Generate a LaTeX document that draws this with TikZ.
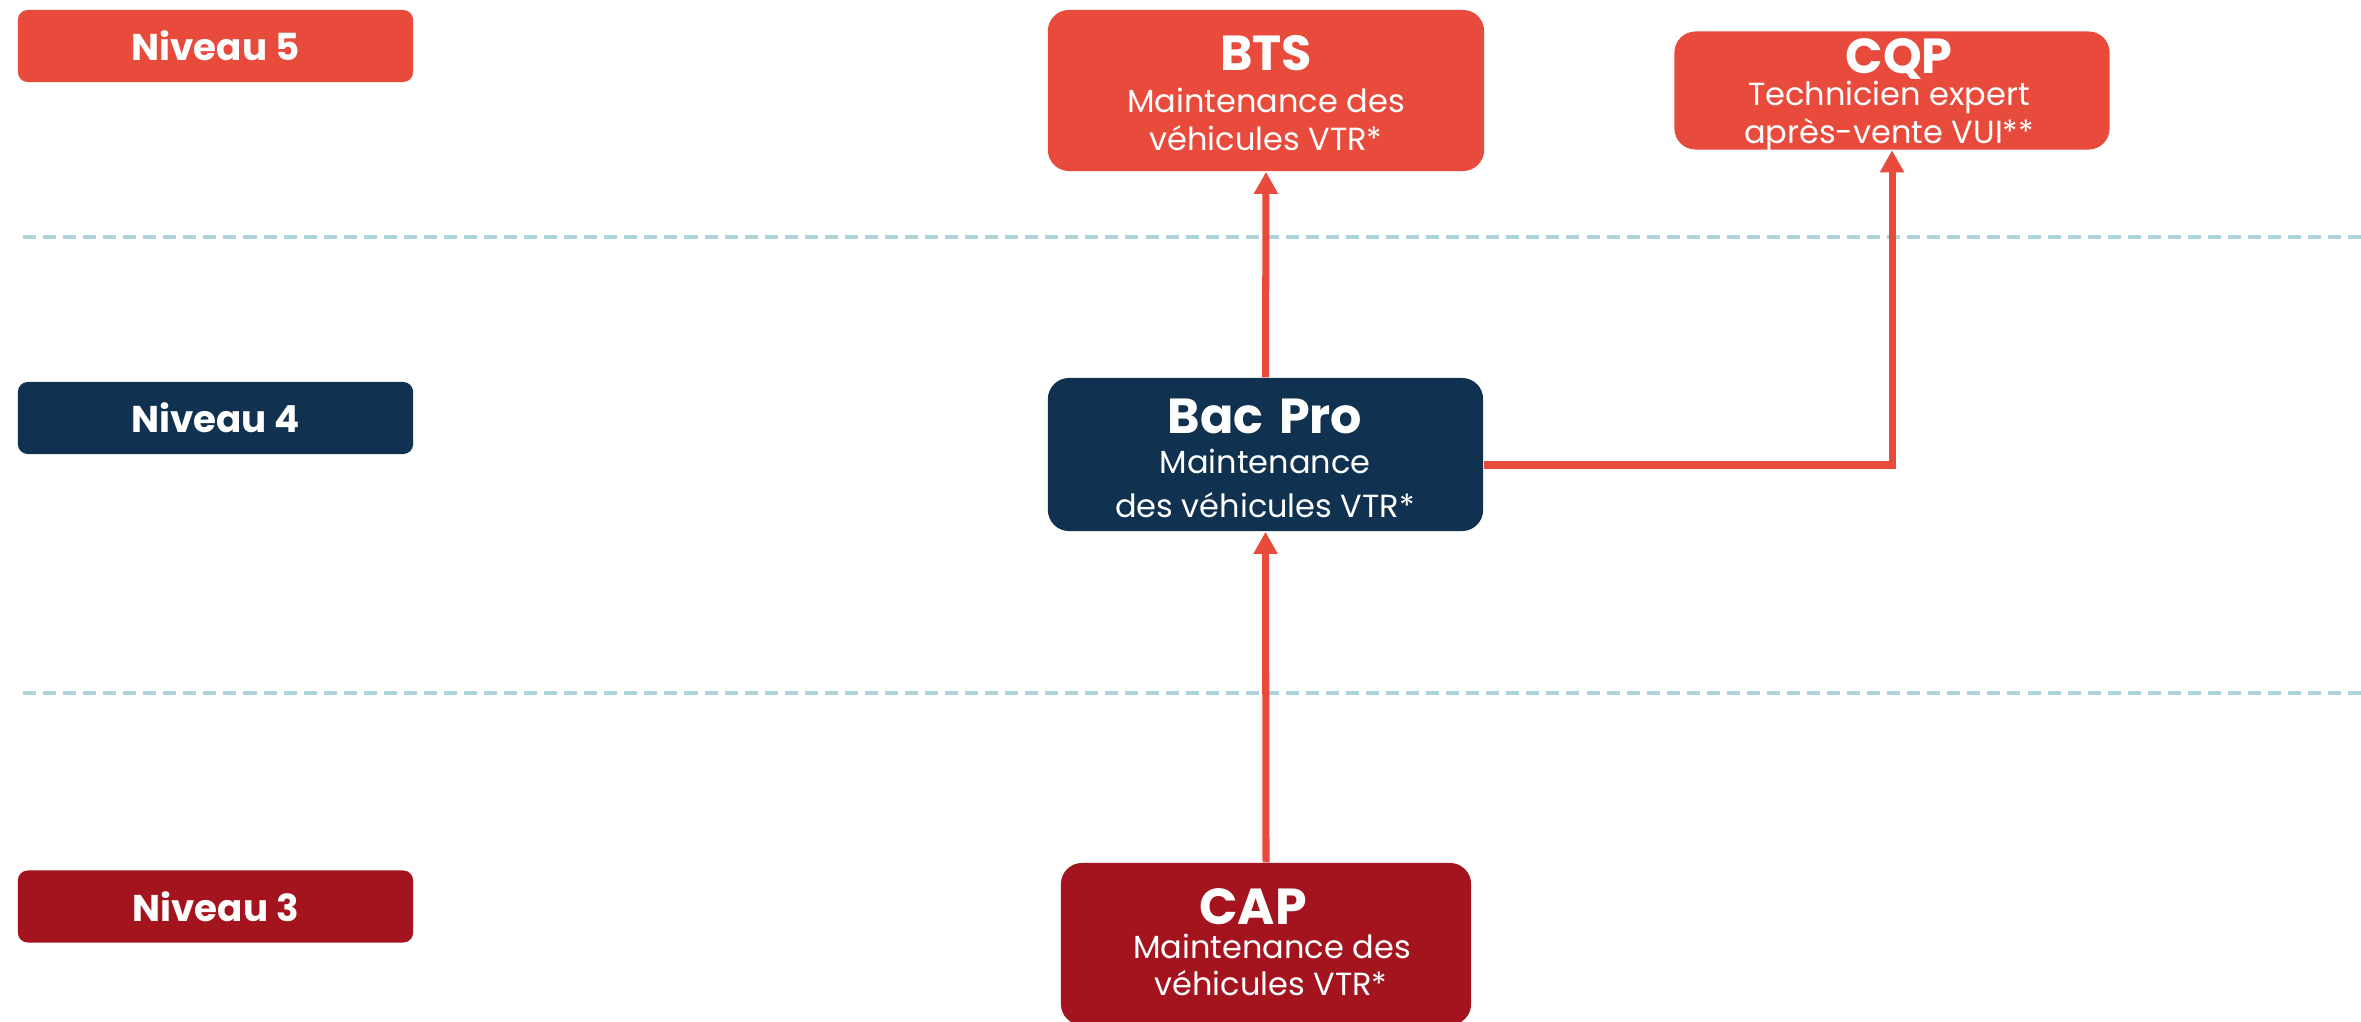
\documentclass[tikz,border=0pt]{standalone}
\usepackage{fontspec}
\setmainfont{Poppins}
\usetikzlibrary{arrows.meta}
\definecolor{cred}{HTML}{E84B3C}
\definecolor{cnavy}{HTML}{10314F}
\definecolor{cdark}{HTML}{A4141F}
\definecolor{cdash}{HTML}{ADD4DA}
\begin{document}
\begin{tikzpicture}[x=0.01cm,y=-0.01cm,
  lvl/.style={rounded corners=2.8pt, minimum width=3.95cm, minimum height=0.72cm, inner sep=0pt, text=white, font=\bfseries\fontsize{10.6}{10.6}\selectfont},
  card/.style={rounded corners=6pt, inner sep=0pt},
  head/.style={text=white, anchor=base, inner sep=0pt, font=\bfseries\fontsize{14}{14}\selectfont},
  sub/.style={text=white, anchor=base, inner sep=0pt, font=\fontsize{9.1}{9.1}\selectfont},
  arr/.style={draw=cred, line width=2pt, -{Triangle[length=6.3pt,width=6.5pt]}},
  sep/.style={draw=cdash, line width=1.15pt, dash pattern=on 3.7pt off 2pt}]
\useasboundingbox (0,0) rectangle (2361,1021);
% level labels
\node[lvl, fill=cred] (n5) at (215.5,46) {Niveau 5};
\node[lvl, fill=cnavy] (n4) at (215.5,418) {Niveau 4};
\node[lvl, fill=cdark] (n3) at (215.5,906.5) {Niveau 3};
% separators
\coordinate (d1a) at (23,237);
\coordinate (d1b) at (2361,237);
\coordinate (d2a) at (23,693);
\coordinate (d2b) at (2361,693);
\draw[sep] (d1a) -- (d1b);
\draw[sep] (d2a) -- (d2b);
% cards
\node[card, fill=cred, minimum width=4.36cm, minimum height=1.61cm] (bts) at (1266,90.5) {};
\node[card, fill=cred, minimum width=4.35cm, minimum height=1.18cm] (cqp) at (1892,90.5) {};
\node[card, fill=cnavy, minimum width=4.35cm, minimum height=1.53cm] (bac) at (1265.5,454.5) {};
\node[card, fill=cdark, minimum width=4.10cm, minimum height=1.62cm] (cap) at (1266,944) {};
% texts
\node[head] (btsT) at (1266,70) {BTS};
\node[sub] (btsS1) at (1266,112) {Maintenance des};
\node[sub] (btsS2) at (1266,150) {véhicules VTR*};
\node[head] (cqpT) at (1899,73) {CQP};
\node[sub] (cqpS1) at (1889,105) {Technicien expert};
\node[sub] (cqpS2) at (1889,143) {après-vente VUI**};
\node[head] (bacT) at (1265,433) {Bac\hspace{0.32em}Pro};
\node[sub] (bacS1) at (1265,473) {Maintenance};
\node[sub] (bacS2) at (1265,517) {des véhicules VTR*};
\node[head, font=\bfseries\fontsize{14.4}{14.4}\selectfont] (capT) at (1253,924) {CAP};
\node[sub] (capS1) at (1272,958) {Maintenance des};
\node[sub] (capS2) at (1271,995) {véhicules VTR*};
% connectors
\draw[arr] (bac.north) -- (bts.south);
\draw[arr] (cap.north) -- (bac.south);
\draw[arr] ([yshift=-0.105cm]bac.east) -| (cqp.south);
\end{tikzpicture}
\end{document}
